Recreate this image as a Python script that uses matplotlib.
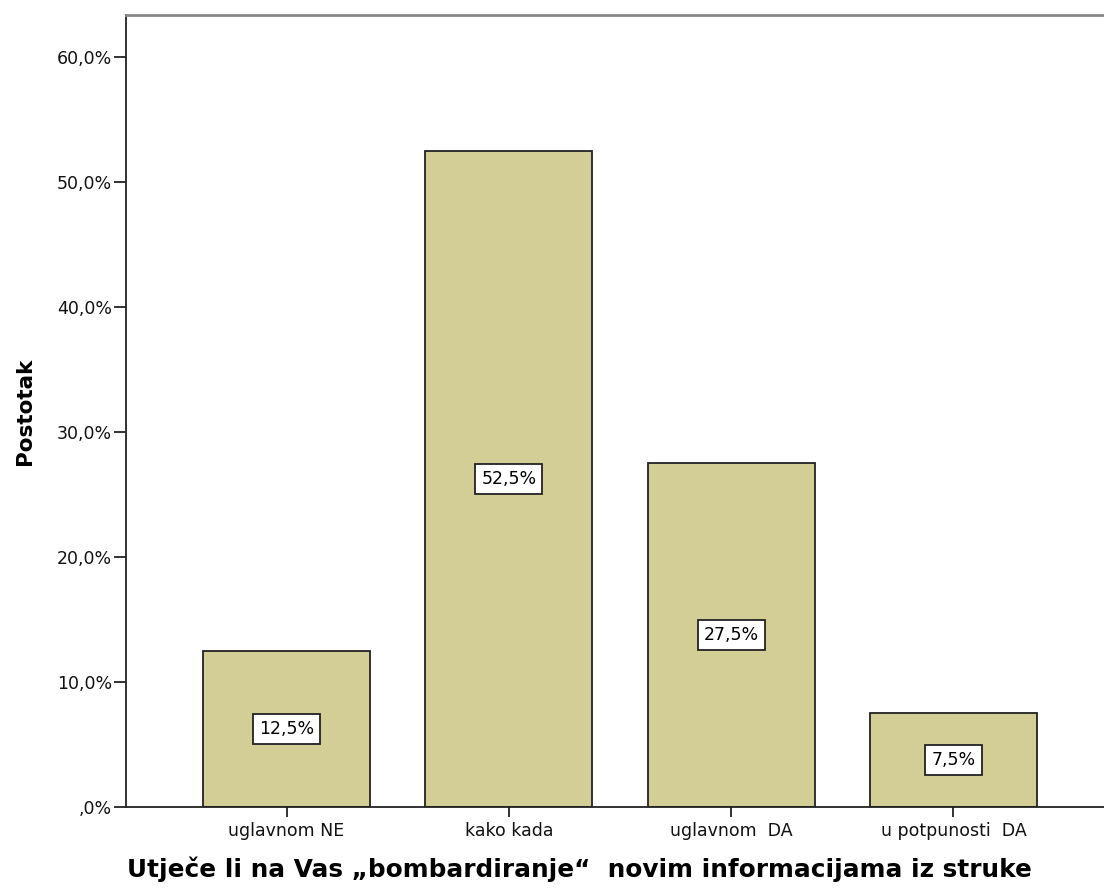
import matplotlib
matplotlib.use("Agg")
import matplotlib.pyplot as plt
from matplotlib.ticker import FuncFormatter

plt.rcParams["font.family"] = ["DejaVu Sans"]

categories = ["uglavnom NE", "kako kada", "uglavnom  DA", "u potpunosti  DA"]
percents = [12.5, 52.5, 27.5, 7.5]
y_ticks = [0, 10, 20, 30, 40, 50, 60]

BAR_COLOR = "#d2ce96"
EDGE = "#222222"


def pct_fmt(v, pos=None):
    s = f"{v:.1f}".replace(".", ",")
    if s.startswith("0,"):
        s = s[1:]
    return s + "%"


fig = plt.figure(figsize=(11.04, 8.9), dpi=100)
ax = fig.add_axes([126 / 1104, 83 / 890, 1 - 126 / 1104, (807 - 15) / 890])

x = list(range(len(categories)))
ax.bar(x, percents, width=0.75, color=BAR_COLOR, edgecolor=EDGE, linewidth=1.3, zorder=2)

# подписи значений в белых рамках посередине столбцов
for xi, v in zip(x, percents):
    ax.text(xi, v / 2, pct_fmt(v), ha="center", va="center", fontsize=12.5, zorder=3,
            bbox=dict(boxstyle="square,pad=0.35", facecolor="white", edgecolor=EDGE, linewidth=1.3))

ax.set_xlim(-0.722, 3.677)
ax.set_ylim(0, 63.36)
ax.set_yticks(y_ticks)
ax.yaxis.set_major_formatter(FuncFormatter(pct_fmt))
ax.set_xticks(x)
ax.set_xticklabels(categories)

ax.tick_params(axis="both", direction="out", width=1.3, colors=EDGE, labelsize=12.5,
               labelcolor="#111111")
ax.tick_params(axis="y", length=9, pad=1)
ax.tick_params(axis="x", length=7.5, pad=3)

ax.spines["right"].set_visible(False)
ax.spines["top"].set_color("#888888")
ax.spines["top"].set_linewidth(2)
for side in ("left", "bottom"):
    ax.spines[side].set_color(EDGE)
    ax.spines[side].set_linewidth(1.3)

ax.set_xlabel("Utječe li na Vas „bombardiranje“  novim informacijama iz struke",
              fontsize=17.8, fontweight="bold")
ax.xaxis.set_label_coords((579 - 126) / 978, -0.062)
ax.set_ylabel("Postotak", fontsize=15.5, fontweight="bold", labelpad=16)

fig.savefig("out.png", dpi=100)
